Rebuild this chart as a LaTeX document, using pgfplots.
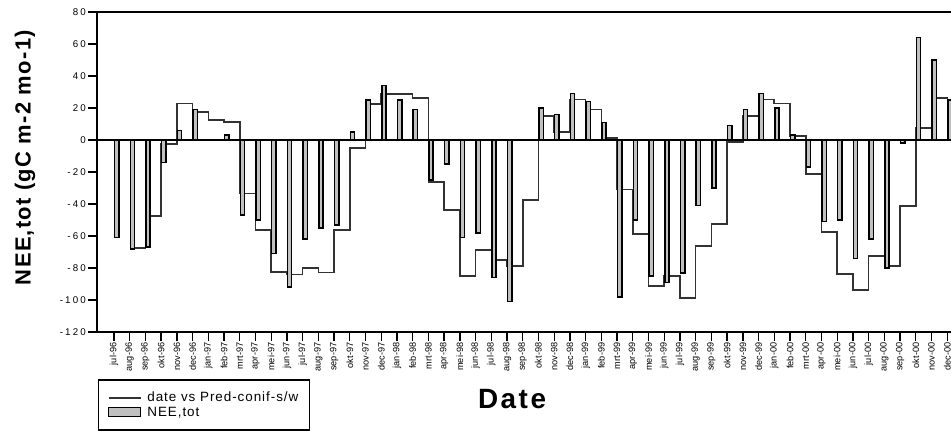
\documentclass[border=0pt]{standalone}
\usepackage{fontspec}
\setmainfont{Liberation Sans}
\newfontfamily\ytickfont[LetterSpace=22]{Liberation Sans}
\newfontfamily\xtickfont{Liberation Sans}
\newfontfamily\ylabfont[LetterSpace=6]{Liberation Sans}
\newfontfamily\xlabfont[LetterSpace=9]{Liberation Sans}
\newfontfamily\legfont[LetterSpace=7]{Liberation Sans}
\usepackage{pgfplots}
\usepackage{pgfplotstable}
\pgfplotsset{compat=1.18}
\definecolor{barfill}{RGB}{192,192,192}
\definecolor{predline}{RGB}{50,50,50}

\pgfplotstableread{
i label nee pred
0 jul-96 -61 nan
1 aug-96 -68 -67.5
2 sep-96 -67 -47.5
3 okt-96 -14 -2.6
4 nov-96 6 22.7
5 dec-96 19 17.6
6 jan-97 nan 12.6
7 feb-97 3 11.4
8 mrt-97 -47 -33.5
9 apr-97 -50 -56.3
10 mei-97 -71 -82.6
11 jun-97 -92 -84
12 jul-97 -62 -80
13 aug-97 -55 -82.8
14 sep-97 -53 -56.3
15 okt-97 5 -4.9
16 nov-97 25 22.6
17 dec-97 34 28.9
18 jan-98 25 28.9
19 feb-98 19 26.4
20 mrt-98 -25 -26.2
21 apr-98 -15 -43.7
22 mei-98 -61 -85
23 jun-98 -58 -68.8
24 jul-98 -86 -75
25 aug-98 -101 -78.8
26 sep-98 nan -37.5
27 okt-98 20 15.1
28 nov-98 16 5.1
29 dec-98 29 25.4
30 jan-99 24 19.1
31 feb-99 11 1.4
32 mrt-99 -98 -31
33 apr-99 -50 -58.8
34 mei-99 -85 -91.3
35 jun-99 -89 -85.1
36 jul-99 -83 -98.8
37 aug-99 -41 -66.3
38 sep-99 -30 -52.5
39 okt-99 9 -1.1
40 nov-99 19 15.1
41 dec-99 29 25.2
42 jan-00 20 22.7
43 feb-00 3 2.6
44 mrt-00 -17 -21.2
45 apr-00 -51 -57.5
46 mei-00 -50 -83.8
47 jun-00 -74 -93.8
48 jul-00 -62 -72.5
49 aug-00 -80 -78.8
50 sep-00 -2 -41.3
51 okt-00 64 7.6
52 nov-00 50 26.4
53 dec-00 25 26
}\data

\begin{document}
\begin{tikzpicture}
\useasboundingbox (0,0) rectangle (951bp,431bp);
\begin{axis}[
  at={(97bp,99bp)}, anchor=south west,
  scale only axis, width=854bp, height=320bp,
  xmin=-1.08, xmax=53.24, ymin=-120, ymax=80,
  axis x line=box, axis y line=left,
  axis line style={-, line width=1.6bp, black},
  xtick pos=bottom, ytick pos=left,
  tick align=outside, major tick length=9bp,
  tick style={black, line width=1.3bp},
  xtick={0,...,53},
  xticklabels from table={\data}{label},
  xticklabel style={rotate=90, anchor=east, font=\xtickfont\fontsize{9.2}{10}\selectfont, inner sep=1.5bp},
  ytick={-120,-100,...,80},
  yticklabels={-120,-100,-80,-60,-40,-20,0,20,40,60,80},
  yticklabel style={font=\ytickfont\fontsize{9.8}{10}\selectfont, inner sep=2bp},
  xlabel={Date},
  xlabel style={at={(axis description cs:0.486,-0.209)}, anchor=center, font=\xlabfont\bfseries\fontsize{28}{30}\selectfont},
  ylabel={NEE,tot (gC m-2 mo-1)},
  ylabel style={at={(axis description cs:-0.0843,0.545)}, rotate=0, anchor=center, font=\ylabfont\bfseries\fontsize{22}{24}\selectfont},
  legend style={at={(axis description cs:0.001,-0.148)}, anchor=north west,
    draw=black, line width=1.5bp, inner xsep=9bp, inner ysep=10bp,
    font=\legfont\fontsize{13.5}{14}\selectfont, row sep=0bp,
    nodes={inner sep=2bp}, column sep=4bp},
  legend cell align=left,
  clip=true,
]
\addplot[const plot, predline, line width=1.6bp, unbounded coords=jump,
  legend image code/.code={\draw[predline, line width=1.8bp] (0bp,0bp) -- (32bp,0bp);}]
  table[x=i, y=pred] {\data};
\addlegendentry{date vs Pred-conif-s/w}
\addplot[ybar, bar width=0.27, fill=barfill, draw=black, line width=1.5bp,
  legend image code/.code={\draw[fill=barfill, draw=black, line width=1.5bp] (0bp,-4bp) rectangle (32bp,5bp);}]
  table[x expr=\thisrow{i}+0.17, y=nee] {\data};
\addlegendentry{NEE,tot}
\draw[black, line width=1.7bp] ({rel axis cs:0,0}|-{axis cs:0,0}) -- ({rel axis cs:1,0}|-{axis cs:0,0});
\end{axis}
\end{tikzpicture}
\end{document}
